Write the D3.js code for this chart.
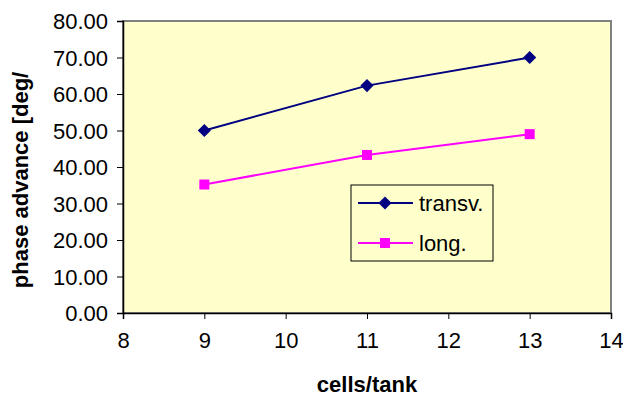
<!DOCTYPE html>
<html>
<head>
<meta charset="utf-8">
<script src="https://cdn.jsdelivr.net/npm/d3@7"></script>
<style>
  body { margin: 0; background: #fff; }
  svg { display: block; font-family: "Liberation Sans", Arial, sans-serif; }
</style>
</head>
<body>
<div id="chart"></div>
<script>
// chart values
const cellsPerTank = [9, 11, 13];
const transv = [50.0, 62.3, 70.0];
const longit = [35.2, 43.3, 49.0];
const seriesNames = ["transv.", "long."];
const xTicks = [8, 9, 10, 11, 12, 13, 14];
const yTicks = [0, 10, 20, 30, 40, 50, 60, 70, 80];

const width = 623, height = 397;
const plot = { left: 123, top: 21, right: 611, bottom: 313 };

const svg = d3.select("#chart").append("svg")
    .attr("width", width)
    .attr("height", height);

const x = d3.scaleLinear().domain([8, 14]).range([plot.left, plot.right]);
const y = d3.scaleLinear().domain([0, 80]).range([plot.bottom, plot.top]);

// plot background
svg.append("rect")
    .attr("x", plot.left).attr("y", plot.top)
    .attr("width", plot.right - plot.left).attr("height", plot.bottom - plot.top)
    .attr("fill", "#ffffcc")
    .attr("stroke", "#808080")
    .attr("stroke-width", 2);

// axes
const yAxis = svg.append("g")
    .attr("transform", `translate(${plot.left},0)`)
    .call(d3.axisLeft(y).tickValues(yTicks).tickFormat(d3.format(".2f")).tickSize(6).tickPadding(9));
const xAxis = svg.append("g")
    .attr("transform", `translate(0,${plot.bottom})`)
    .call(d3.axisBottom(x).tickValues(xTicks).tickFormat(d3.format("d")).tickSize(6).tickPadding(13));

[yAxis, xAxis].forEach(g => {
    g.select(".domain").attr("stroke", "#000").attr("stroke-width", 1.5);
    g.selectAll(".tick line").attr("stroke", "#000");
    g.selectAll(".tick text")
        .attr("fill", "#000")
        .style("font-family", "'Liberation Sans', Arial, sans-serif")
        .style("font-size", "22px");
});
yAxis.selectAll(".tick text").attr("dy", "0.36em");

// axis titles
svg.append("text")
    .attr("x", (plot.left + plot.right) / 2)
    .attr("y", 392)
    .attr("text-anchor", "middle")
    .style("font-size", "22px")
    .style("font-weight", "bold")
    .text("cells/tank");

svg.append("text")
    .attr("transform", "translate(28,180) rotate(-90)")
    .attr("text-anchor", "middle")
    .style("font-size", "22px")
    .style("font-weight", "bold")
    .text("phase advance [deg/");

// series
const series = [
    { name: seriesNames[0], values: transv, color: "#000080", marker: "diamond" },
    { name: seriesNames[1], values: longit, color: "#ff00ff", marker: "square" }
];

const line = d3.line()
    .x((d, i) => x(cellsPerTank[i]))
    .y(d => y(d));

function drawMarker(g, type, color, cx, cy) {
    if (type === "diamond") {
        g.append("path")
            .attr("d", d3.symbol(d3.symbolDiamond2, 110)())
            .attr("transform", `translate(${cx},${cy})`)
            .attr("fill", color);
    } else {
        g.append("rect")
            .attr("x", cx - 5).attr("y", cy - 5)
            .attr("width", 10).attr("height", 10)
            .attr("fill", color);
    }
}

series.forEach(s => {
    const g = svg.append("g");
    g.append("path")
        .datum(s.values)
        .attr("d", line)
        .attr("fill", "none")
        .attr("stroke", s.color)
        .attr("stroke-width", 2);
    s.values.forEach((v, i) => drawMarker(g, s.marker, s.color, x(cellsPerTank[i]), y(v)));
});

// legend
const legend = svg.append("g").attr("transform", "translate(351,185)");
legend.append("rect")
    .attr("width", 142).attr("height", 76)
    .attr("fill", "#ffffcc")
    .attr("stroke", "#000")
    .attr("stroke-width", 1);

series.forEach((s, i) => {
    const ly = 18 + i * 40;
    const row = legend.append("g");
    row.append("line")
        .attr("x1", 7).attr("x2", 62)
        .attr("y1", ly).attr("y2", ly)
        .attr("stroke", s.color).attr("stroke-width", 2);
    drawMarker(row, s.marker, s.color, 34, ly);
    row.append("text")
        .attr("x", 68).attr("y", ly)
        .attr("dy", "0.36em")
        .style("font-size", "22px")
        .text(s.name);
});
</script>
</body>
</html>
